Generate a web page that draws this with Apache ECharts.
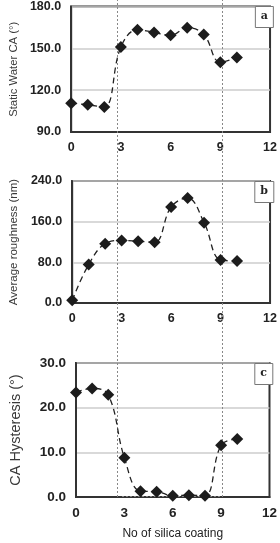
<!DOCTYPE html>
<html>
<head>
<meta charset="utf-8">
<script src="https://cdn.jsdelivr.net/npm/echarts@6/dist/echarts.min.js"></script>
<style>
  html, body { margin: 0; padding: 0; background: #fff; }
  #chart { width: 280px; height: 543px; }
</style>
</head>
<body>
<div id="chart"></div>
<script>
// 数据部分
let coatings = [0, 1, 2, 3, 4, 5, 6, 7, 8, 9, 10];
let contactAngle = [110.7, 109.5, 108, 151, 163.4, 161.4, 159.3, 164.8, 160, 140, 143.4];
let roughness = [5.3, 75.5, 116.8, 123, 121.4, 119.4, 188.9, 206.6, 158, 84.6, 82.6];
let hysteresis = [23.4, 24.3, 22.9, 8.8, 1.3, 1.2, 0.3, 0.4, 0.3, 11.6, 13.0];
let xTicks = [0, 3, 6, 9, 12];
let refLines = [3, 9];

let FONT = "Liberation Sans, Arial, sans-serif";
let NARROW = "Liberation Sans Narrow, Arial Narrow, Liberation Sans, sans-serif";

function pairs(vals) {
  return coatings.map(function (c, i) { return [c, vals[i]]; });
}

// 坐标轴公共配置
function xAxisOf(idx, size) {
  return {
    type: "value", gridIndex: idx, min: xTicks[0], max: xTicks[xTicks.length - 1], interval: 3,
    axisLine: { show: true, lineStyle: { color: "#333", width: 2 } },
    axisTick: { show: false },
    splitLine: { show: false },
    axisLabel: { color: "#222", fontFamily: NARROW, fontWeight: "bold", fontSize: size, margin: 9 },
    name: idx === 2 ? "No of silica coating" : "",
    nameLocation: "middle", nameGap: 31,
    nameTextStyle: { color: "#222", fontFamily: FONT, fontSize: 12 }
  };
}
function yAxisOf(idx, min, max, step, name, gap, size, nameSize) {
  return {
    type: "value", gridIndex: idx, min: min, max: max, interval: step,
    axisLine: { show: true, lineStyle: { color: "#333", width: 2 } },
    axisTick: { show: false },
    splitLine: { show: true, lineStyle: { color: "#cccccc", width: 1.5 } },
    axisLabel: {
      color: "#222", fontFamily: NARROW, fontWeight: "bold", fontSize: size, margin: 10,
      formatter: function (v) { return v.toFixed(1); }
    },
    name: name, nameLocation: "middle", nameGap: gap,
    nameTextStyle: { color: "#3a3a3a", fontFamily: FONT, fontSize: nameSize }
  };
}
function seriesOf(idx, vals) {
  return {
    type: "line", xAxisIndex: idx, yAxisIndex: idx, data: pairs(vals),
    smooth: 0.4, symbol: "diamond", symbolSize: 12,
    itemStyle: { color: "#1c1c1c" },
    lineStyle: { color: "#222", width: 1.3, type: [6, 4] },
    z: 5
  };
}
function tagOf(text, top, right) {
  return {
    text: text, right: right, top: top, padding: [5, 6, 6, 6],
    borderColor: "#777", borderWidth: 1, backgroundColor: "#fff",
    textStyle: { fontFamily: "DejaVu Serif, serif", fontWeight: "bold", fontSize: 11, color: "#222" }
  };
}

let chart = echarts.init(document.getElementById("chart"), null, { renderer: "canvas" });

let grids = [
  { left: 64, top: 6, width: 211, height: 126 },
  { left: 64, top: 181, width: 211, height: 122 },
  { left: 68, top: 363, width: 205, height: 134 },
  { left: 64, top: 0, width: 211, height: 497 }
].map(function (g, i) {
  return Object.assign({ show: i < 3, borderColor: "#333", borderWidth: 2, backgroundColor: "transparent" }, g);
});

let cSeries = seriesOf(2, hysteresis);
cSeries.markLine = {
  silent: true, symbol: "none", label: { show: false },
  lineStyle: { color: "#888", type: [2, 2], width: 1 },
  data: [[{ coord: [2.85, 0.25] }, { coord: [9, 0.25] }]]
};

let option = {
  animation: false,
  backgroundColor: "#fff",
  title: [tagOf("a", 6, 6), tagOf("b", 181, 6), tagOf("c", 363, 7)],
  grid: grids,
  xAxis: [xAxisOf(0, 12.5), xAxisOf(1, 12.5), xAxisOf(2, 13.5),
    { type: "value", gridIndex: 3, min: 0, max: 12, show: false }],
  yAxis: [
    yAxisOf(0, 90, 180, 30, "Static Water CA (°)", 52, 12.5, 11.3),
    yAxisOf(1, 0, 240, 80, "Average roughness (nm)", 52, 12.5, 11.5),
    yAxisOf(2, 0, 30, 10, "CA Hysteresis (°)", 53, 13.5, 14.5),
    { type: "value", gridIndex: 3, min: 0, max: 1, show: false }
  ],
  series: [
    seriesOf(0, contactAngle),
    seriesOf(1, roughness),
    cSeries,
    {
      type: "line", xAxisIndex: 3, yAxisIndex: 3, data: [], z: 1,
      markLine: {
        silent: true, symbol: "none", label: { show: false },
        lineStyle: { color: "#888", type: [2, 2], width: 1 },
        data: refLines.map(function (v) { return { xAxis: v }; })
      }
    }
  ]
};

chart.setOption(option);
</script>
</body>
</html>
